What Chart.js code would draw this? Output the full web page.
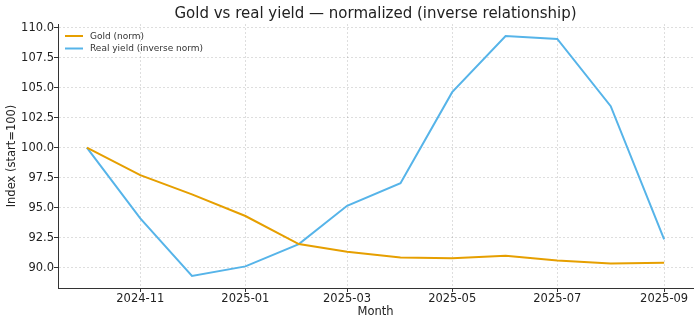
<!DOCTYPE html>
<html>
<head>
<meta charset="utf-8">
<script src="https://cdn.jsdelivr.net/npm/chart.js@4"></script>
<style>
  html, body { margin: 0; padding: 0; background: #fff; }
  #wrap { width: 700px; height: 322px; }
</style>
</head>
<body>
<div id="wrap"><canvas id="grafico" width="700" height="322"></canvas></div>
<script>
// valores
const meses = ['2024-10', '2024-11', '2024-12', '2025-01', '2025-02', '2025-03',
               '2025-04', '2025-05', '2025-06', '2025-07', '2025-08', '2025-09'];
const ouroNorm = [100.0, 97.7, 96.1, 94.3, 91.96, 91.32, 90.84, 90.78, 90.98, 90.6, 90.35, 90.4];
const jurosRealInv = [100.0, 94.1, 89.3, 90.1, 91.96, 95.15, 97.03, 104.62, 109.3, 109.05, 103.45, 92.35];
const ticksX = ['2024-11', '2025-01', '2025-03', '2025-05', '2025-07', '2025-09'];
const ticksY = [90.0, 92.5, 95.0, 97.5, 100.0, 102.5, 105.0, 107.5, 110.0];

const FONTE = "'DejaVu Sans', sans-serif";
const TITULO = 'Gold vs real yield — normalized (inverse relationship)';

function diaDoMes(m) {
    const [a, mm] = m.split('-').map(Number);
    return Date.UTC(a, mm - 1, 1) / 86400000;
}

function pontos(valores) {
    return valores.map((v, i) => ({ x: diaDoMes(meses[i]), y: v }));
}

const inicio = diaDoMes(meses[0]);
const fim = diaDoMes(meses[meses.length - 1]);
const margem = (fim - inicio) * 0.05;

// título centralizado sobre a área do gráfico + legenda dentro dela
const extras = {
    id: 'extras',
    afterDraw(chart) {
        const { ctx, chartArea } = chart;
        ctx.save();
        ctx.fillStyle = '#222';
        ctx.font = '15px ' + FONTE;
        ctx.textAlign = 'center';
        ctx.textBaseline = 'middle';
        ctx.fillText(TITULO, (chartArea.left + chartArea.right) / 2, 14);

        const itens = [
            { texto: 'Gold (norm)', cor: '#E69F00' },
            { texto: 'Real yield (inverse norm)', cor: '#56B4E9' }
        ];
        ctx.font = '9px ' + FONTE;
        ctx.textAlign = 'left';
        itens.forEach((item, i) => {
            const y = chartArea.top + 12 + i * 12.5;
            const x = chartArea.left + 7;
            ctx.strokeStyle = item.cor;
            ctx.lineWidth = 2;
            ctx.beginPath();
            ctx.moveTo(x, y);
            ctx.lineTo(x + 18, y);
            ctx.stroke();
            ctx.fillStyle = '#333';
            ctx.fillText(item.texto, x + 25, y + 0.5);
        });
        ctx.restore();
    }
};

const gradeComum = {
    color: 'rgba(0,0,0,0.13)',
    tickColor: '#333',
    tickBorderDash: [],
    tickLength: 4
};

const ctx = document.getElementById('grafico').getContext('2d');
new Chart(ctx, {
    type: 'line',
    data: {
        datasets: [{
            label: 'Gold (norm)',
            data: pontos(ouroNorm),
            borderColor: '#E69F00',
            borderWidth: 2,
            pointRadius: 0,
            tension: 0
        }, {
            label: 'Real yield (inverse norm)',
            data: pontos(jurosRealInv),
            borderColor: '#56B4E9',
            borderWidth: 2,
            pointRadius: 0,
            tension: 0
        }]
    },
    options: {
        responsive: false,
        animation: false,
        layout: { padding: { left: 0, right: 7, top: 24, bottom: 0 } },
        plugins: {
            legend: { display: false },
            tooltip: { enabled: false },
            title: { display: false }
        },
        scales: {
            x: {
                type: 'linear',
                min: inicio - margem,
                max: fim + margem,
                afterBuildTicks(escala) {
                    escala.ticks = ticksX.map(m => ({ value: diaDoMes(m) }));
                },
                afterFit(escala) { escala.height = 34; },
                ticks: {
                    color: '#222',
                    font: { family: FONTE, size: 11.5 },
                    padding: 0,
                    maxRotation: 0,
                    callback(valor) {
                        const d = new Date(valor * 86400000);
                        return d.getUTCFullYear() + '-' + String(d.getUTCMonth() + 1).padStart(2, '0');
                    }
                },
                grid: gradeComum,
                border: { display: true, color: '#333', width: 1, dash: [2, 2] },
                title: {
                    display: true,
                    text: 'Month',
                    color: '#222',
                    font: { family: FONTE, size: 11.5 },
                    padding: { top: 0, bottom: 3 }
                }
            },
            y: {
                min: 88.3,
                max: 110.3,
                afterBuildTicks(escala) {
                    escala.ticks = ticksY.map(v => ({ value: v }));
                },
                afterFit(escala) { escala.width = 58; },
                ticks: {
                    color: '#222',
                    font: { family: FONTE, size: 11.5 },
                    padding: 0,
                    callback: v => v.toFixed(1)
                },
                grid: gradeComum,
                border: { display: true, color: '#333', width: 1, dash: [2, 2] },
                title: {
                    display: true,
                    text: 'Index (start=100)',
                    color: '#222',
                    font: { family: FONTE, size: 11.5 },
                    padding: { top: 5, bottom: 0 }
                }
            }
        }
    },
    plugins: [extras]
});
</script>
</body>
</html>
